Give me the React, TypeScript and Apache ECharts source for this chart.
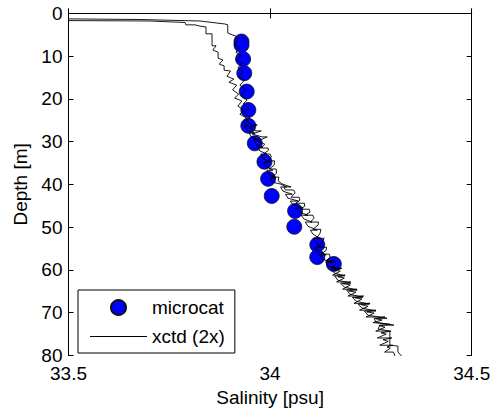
import React, { useEffect, useRef } from "react";
import * as echarts from "echarts";

// microcat salinity / depth
const microcatSalinity = [33.929, 33.929, 33.933, 33.936, 33.942, 33.946, 33.946, 33.962, 33.986, 33.995, 34.004, 34.062, 34.06, 34.117, 34.117, 34.158];
const microcatDepth = [6.6, 7.4, 10.7, 14.0, 18.3, 22.6, 26.3, 30.4, 34.7, 38.7, 42.7, 46.2, 49.9, 54.1, 57.0, 58.6];

// xctd cast 1: [salinity, depth]
const xctd1Profile = [
  [33.5, 1.3], [33.677, 1.45], [33.826, 1.8], [33.888, 2.5], [33.895, 2.7], [33.895, 4.6], [33.908, 5.1], [33.915, 5.3],
  [33.92, 6.2], [33.912, 7.4], [33.925, 8.1], [33.915, 9.1], [33.928, 9.8], [33.918, 10.9], [33.93, 11.6], [33.92, 12.8],
  [33.933, 13.7], [33.922, 14.9], [33.937, 15.6], [33.925, 16.8], [33.94, 17.9], [33.928, 19.1], [33.943, 20.3], [33.933, 21.2],
  [33.948, 22.2], [33.936, 23.3], [33.95, 24.3], [33.94, 25.2], [33.955, 26.1], [33.968, 26.1], [33.948, 26.8], [33.965, 27.5],
  [33.978, 27.5], [33.955, 28.2], [33.98, 28.9], [33.993, 28.9], [33.968, 29.9], [33.987, 30.6], [33.978, 31.5], [33.995, 31.5],
  [33.996, 32.0], [33.984, 32.9], [34.0, 32.9], [34.003, 33.6], [33.993, 34.5], [34.011, 34.5], [34.01, 35.5], [33.998, 36.4],
  [34.015, 36.4], [34.016, 37.4], [34.003, 38.3], [34.022, 38.3], [34.02, 39.2], [34.03, 39.9], [34.052, 40.6], [34.034, 40.6],
  [34.038, 41.3], [34.058, 41.3], [34.062, 42.0], [34.052, 43.0], [34.072, 43.0], [34.074, 43.7], [34.064, 44.4], [34.085, 44.4],
  [34.086, 45.1], [34.075, 45.8], [34.097, 45.8], [34.099, 46.5], [34.086, 47.2], [34.106, 47.2], [34.109, 47.9], [34.1, 48.8],
  [34.12, 48.8], [34.119, 49.5], [34.106, 50.5], [34.126, 50.5], [34.124, 51.4], [34.115, 52.6], [34.134, 52.6], [34.129, 53.5],
  [34.12, 54.7], [34.14, 54.7], [34.139, 55.4], [34.126, 56.3], [34.147, 56.3], [34.149, 57.0], [34.138, 57.9], [34.16, 57.9],
  [34.164, 58.6], [34.15, 59.6], [34.178, 59.6], [34.16, 60.0], [34.174, 60.3], [34.155, 61.2], [34.186, 61.2], [34.168, 61.6],
  [34.184, 61.9], [34.165, 62.8], [34.2, 62.8], [34.18, 63.2], [34.199, 63.5], [34.18, 64.5], [34.215, 64.5], [34.195, 64.9],
  [34.213, 65.2], [34.193, 66.1], [34.232, 66.1], [34.21, 66.5], [34.228, 66.8], [34.208, 67.8], [34.248, 67.8], [34.225, 68.1],
  [34.243, 68.5], [34.222, 69.4], [34.262, 69.4], [34.24, 69.8], [34.258, 70.1], [34.238, 71.0], [34.285, 71.0], [34.262, 71.4],
  [34.278, 71.7], [34.255, 72.3], [34.298, 72.7], [34.27, 73.0], [34.285, 73.4], [34.262, 74.3], [34.3, 74.3], [34.275, 74.7],
  [34.288, 75.0], [34.266, 75.9], [34.302, 75.9], [34.28, 76.3], [34.293, 76.7], [34.272, 77.6], [34.304, 77.6], [34.29, 78.0],
  [34.298, 78.3], [34.284, 79.2], [34.306, 79.2], [34.31, 80.2],
];

// xctd cast 2: [salinity, depth]
const xctd2Profile = [
  [33.5, 1.7], [33.702, 1.8], [33.789, 2.15], [33.791, 2.7], [33.814, 2.7], [33.826, 3.0], [33.841, 3.2], [33.841, 4.8],
  [33.856, 4.8], [33.856, 7.6], [33.866, 7.6], [33.858, 8.6], [33.871, 9.1], [33.871, 10.5], [33.883, 10.9], [33.874, 11.9],
  [33.886, 12.3], [33.886, 13.3], [33.902, 13.5], [33.893, 14.7], [33.91, 15.4], [33.898, 16.1], [33.917, 16.8], [33.907, 17.9],
  [33.922, 18.9], [33.912, 19.8], [33.93, 20.5], [33.92, 21.7], [33.935, 22.6], [33.925, 23.6], [33.942, 24.5], [33.932, 25.4],
  [33.948, 26.4], [33.936, 26.4], [33.943, 27.3], [33.962, 28.0], [33.948, 28.0], [33.953, 28.9], [33.974, 29.6], [33.96, 29.6],
  [33.965, 30.6], [33.982, 31.3], [33.968, 31.3], [33.975, 32.2], [33.992, 32.9], [33.977, 32.9], [33.982, 33.8], [33.999, 34.8],
  [33.984, 34.8], [33.99, 35.7], [34.007, 36.7], [33.992, 36.7], [33.997, 37.6], [34.014, 38.5], [34.0, 38.5], [34.007, 39.5],
  [34.025, 39.9], [34.041, 40.6], [34.026, 40.6], [34.032, 41.6], [34.055, 42.3], [34.038, 42.3], [34.044, 43.2], [34.07, 43.9],
  [34.05, 43.9], [34.057, 44.8], [34.082, 45.5], [34.064, 45.5], [34.072, 46.5], [34.094, 47.2], [34.077, 47.2], [34.084, 48.1],
  [34.104, 48.8], [34.087, 48.8], [34.094, 49.8], [34.117, 50.7], [34.1, 50.7], [34.106, 51.6], [34.122, 52.6], [34.108, 52.6],
  [34.114, 53.7], [34.127, 54.7], [34.112, 54.7], [34.119, 55.8], [34.139, 56.5], [34.123, 56.5], [34.129, 57.5], [34.157, 58.2],
  [34.138, 58.2], [34.144, 59.1], [34.174, 59.8], [34.15, 59.8], [34.159, 60.7], [34.185, 61.4], [34.16, 61.4], [34.168, 62.4],
  [34.2, 63.1], [34.175, 63.1], [34.184, 64.0], [34.216, 64.7], [34.19, 64.7], [34.198, 65.7], [34.23, 66.4], [34.204, 66.4],
  [34.213, 67.3], [34.246, 68.0], [34.218, 68.0], [34.228, 68.9], [34.262, 69.6], [34.234, 69.6], [34.243, 70.6], [34.29, 71.3],
  [34.258, 71.3], [34.262, 72.2], [34.307, 72.9], [34.272, 72.9], [34.268, 73.8], [34.297, 74.3], [34.297, 77.6], [34.317, 77.8],
  [34.317, 79.2], [34.327, 80.2],
];

const salinityTicks = [33.5, 34, 34.5];
const depthTicks = [0, 10, 20, 30, 40, 50, 60, 70, 80];

const FONT = "'Liberation Sans', Arial, Helvetica, sans-serif";
const FS = 19;

function zip(a: number[], b: number[]) {
  return a.map((v, i) => [v, b[i]]);
}

export default function App() {
  const ref = useRef<HTMLDivElement>(null);
  useEffect(() => {
    if (!ref.current) return;
    const chart = echarts.init(ref.current, null, { renderer: "svg" });
    const axisLine = { show: true, lineStyle: { color: "#000", width: 1 } };
    const tick = { show: true, inside: true, length: 5, lineStyle: { color: "#000", width: 1 } };
    const label = { color: "#000", fontSize: FS, fontFamily: FONT };
    const sMin = salinityTicks[0];
    const sMax = salinityTicks[salinityTicks.length - 1];
    const sInt = salinityTicks[1] - salinityTicks[0];
    const dMin = depthTicks[0];
    const dMax = depthTicks[depthTicks.length - 1];
    const dInt = depthTicks[1] - depthTicks[0];
    chart.setOption({
      animation: false,
      backgroundColor: "#fff",
      grid: { left: 68.5, top: 13.3, right: 23.3, bottom: 63.5, containLabel: false },
      legend: {
        data: [
          { name: "microcat", icon: "circle" },
          { name: "xctd (2x)", icon: "path://M0,0 H57 V1 H0 Z", itemStyle: { color: "#000", borderWidth: 0 } },
        ],
        orient: "vertical",
        left: 78,
        top: 290,
        itemWidth: 57,
        itemHeight: 15,
        itemGap: 10,
        padding: [8, 10, 7, 12],
        borderColor: "#000",
        borderWidth: 1,
        backgroundColor: "#fff",
        textStyle: { color: "#000", fontSize: FS, fontFamily: FONT },
      },
      xAxis: [
        {
          type: "value",
          min: sMin,
          max: sMax,
          interval: sInt,
          name: "Salinity [psu]",
          nameLocation: "middle",
          nameGap: 32,
          nameTextStyle: label,
          axisLine,
          axisTick: tick,
          axisLabel: { ...label, margin: 8 },
          splitLine: { show: false },
        },
        {
          type: "value",
          position: "top",
          min: sMin,
          max: sMax,
          interval: sInt,
          axisLine,
          axisTick: tick,
          axisLabel: { show: false },
          splitLine: { show: false },
        },
      ],
      yAxis: [
        {
          type: "value",
          inverse: true,
          min: dMin,
          max: dMax,
          interval: dInt,
          name: "Depth [m]",
          nameLocation: "middle",
          nameGap: 37,
          nameTextStyle: label,
          axisLine,
          axisTick: tick,
          axisLabel: { ...label, margin: 6 },
          splitLine: { show: false },
        },
        {
          type: "value",
          position: "right",
          inverse: true,
          min: dMin,
          max: dMax,
          interval: dInt,
          axisLine,
          axisTick: tick,
          axisLabel: { show: false },
          splitLine: { show: false },
        },
      ],
      series: [
        {
          name: "microcat",
          type: "scatter",
          data: zip(microcatSalinity, microcatDepth),
          symbol: "circle",
          symbolSize: 15,
          itemStyle: { color: "#0000ff", borderColor: "#111", borderWidth: 0.8, opacity: 1 },
        },
        {
          name: "xctd (2x)",
          type: "line",
          data: xctd1Profile,
          symbol: "none",
          lineStyle: { color: "#000", width: 0.9 },
          itemStyle: { color: "#000" },
        },
        {
          name: "xctd (2x)",
          type: "line",
          data: xctd2Profile,
          symbol: "none",
          lineStyle: { color: "#000", width: 0.9 },
          itemStyle: { color: "#000" },
        },
      ],
    });
    return () => chart.dispose();
  }, []);
  return (
    <div
      ref={ref}
      style={{ position: "absolute", left: 0, top: 0, width: 495, height: 419 }}
    />
  );
}
